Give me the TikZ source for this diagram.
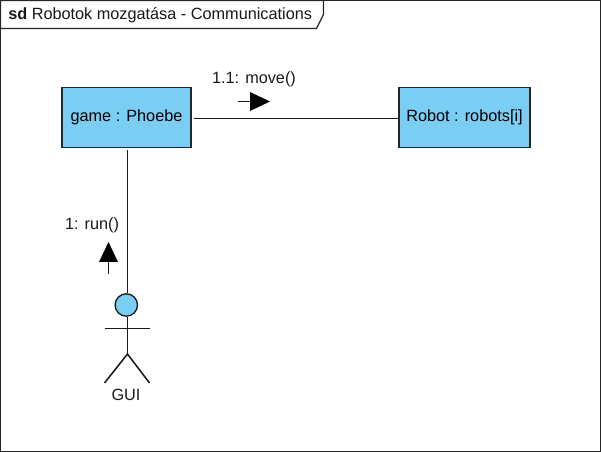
\documentclass[tikz,border=0pt]{standalone}
\usepackage{fontspec}
\setmainfont{Liberation Sans}
\definecolor{boxblue}{HTML}{7ACEF4}
\tikzset{
  px/.style={x=0.75pt,y=-0.75pt},
  objbox/.style={draw=black!85,line width=1.05pt,fill=boxblue,minimum height=45pt,inner sep=0pt,font=\fontsize{12.2pt}{14pt}\selectfont},
  lbl/.style={inner sep=0pt,font=\fontsize{12.2pt}{14pt}\selectfont,text=black!90},
  wire/.style={draw=black!90,line width=1.15pt},
  msg/.style={fill=black,draw=none}
}
\begin{document}
\begin{tikzpicture}[px]
\useasboundingbox (0,0) rectangle (601,452);
\draw[line width=1pt,draw=black!85] (0.5,0.5) rectangle (600.5,451.5);
\draw[line width=1pt,draw=black!85,fill=white] (0.5,0.5) -- (323.5,0.5) -- (323.5,14.5) -- (316.5,28.5) -- (0.5,28.5) -- cycle;
\node[lbl,anchor=base west] (title) at (8,20) {\textbf{sd} Robotok mozgatása - Communications};
\node[objbox,minimum width=96.5pt] (game) at (126.5,117.3) {\raisebox{-1pt}{game : Phoebe}};
\node[objbox,minimum width=98.5pt] (robot) at (464.5,117.3) {\raisebox{-1pt}{Robot : robots[i]}};
\node[circle,draw=black!90,line width=1pt,fill=boxblue,minimum size=16.8pt,inner sep=0pt] (head) at (126.3,305) {};
\coordinate (neck) at (127.5,354);
\coordinate (armL) at (104.5,328.5);
\coordinate (armR) at (149.5,328.5);
\coordinate (legL) at (104.5,383);
\coordinate (legR) at (149.5,383);
\draw[wire,shorten <=1.5pt] (game.east |- 0,118.5) -- (robot.west |- 0,118.5);
\draw[wire,shorten <=1.5pt] (game.south -| 127.5,0) -- (head.north -| 127.5,0);
\draw[wire] (head.south -| neck) -- (neck);
\draw[wire] (armL) -- (armR);
\draw[wire] (legL) -- (neck) -- (legR);
\node[lbl,anchor=base] (gui) at (126,401) {GUI};
\node[lbl,anchor=base] (mv) at (254,84) {1.1: move()};
\node[lbl,anchor=base] (rn) at (92,230) {1: run()};
\coordinate (a1) at (238,101.5);
\coordinate (a2) at (250,101.5);
\draw[wire] (a1) -- (a2);
\fill[msg] (250,92) -- (270,101.5) -- (250,111) -- cycle;
\coordinate (b1) at (108.5,274);
\coordinate (b2) at (108.5,261);
\draw[wire] (b1) -- (b2);
\fill[msg] (99,262) -- (108.5,242) -- (118,262) -- cycle;
\end{tikzpicture}
\end{document}
